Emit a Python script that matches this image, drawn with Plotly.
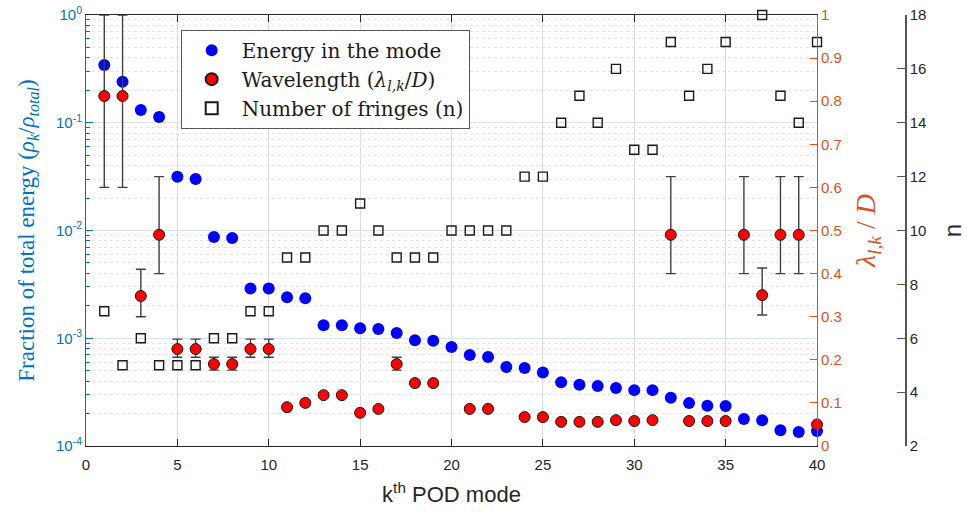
import plotly.graph_objects as go

modes = list(range(1, 41))

energy = [0.343, 0.24, 0.131, 0.113, 0.0315, 0.030, 0.0087, 0.0085, 0.0029, 0.0029,
          0.0024, 0.00235, 0.00132, 0.00132, 0.00124, 0.00122, 0.00112, 0.00096, 0.00095, 0.00083,
          0.00070, 0.00067, 0.00054, 0.00053, 0.00048, 0.00039, 0.00037, 0.00036, 0.000345, 0.00033,
          0.00033, 0.00028, 0.00025, 0.000236, 0.000235, 0.000178, 0.000173, 0.00014, 0.000135, 0.000138]

wavelength = [0.812, 0.812, 0.348, 0.49, 0.225, 0.225, 0.19, 0.19, 0.225, 0.225,
              0.09, 0.10, 0.118, 0.118, 0.077, 0.086, 0.19, 0.146, 0.146, None,
              0.086, 0.086, None, 0.067, 0.067, 0.056, 0.056, 0.056, 0.06, 0.058,
              0.06, 0.49, 0.058, 0.058, 0.058, 0.49, 0.35, 0.49, 0.49, 0.05]

wl_err_plus = [0.188, 0.188, 0.062, 0.135, 0.023, 0.023, 0.016, 0.016, 0.023, 0.023,
               0.004, 0.004, 0.004, 0.004, 0.004, 0.004, 0.016, 0.004, 0.004, 0,
               0.004, 0.004, 0, 0.004, 0.004, 0.004, 0.004, 0.004, 0.004, 0.004,
               0.004, 0.135, 0.004, 0.004, 0.004, 0.135, 0.063, 0.135, 0.135, 0.004]

wl_err_minus = [0.212, 0.212, 0.048, 0.09, 0.019, 0.019, 0.014, 0.014, 0.019, 0.019,
                0.004, 0.004, 0.004, 0.004, 0.004, 0.004, 0.014, 0.004, 0.004, 0,
                0.004, 0.004, 0, 0.004, 0.004, 0.004, 0.004, 0.004, 0.004, 0.004,
                0.004, 0.09, 0.004, 0.004, 0.004, 0.09, 0.046, 0.09, 0.09, 0.004]

fringes = [7, 5, 6, 5, 5, 5, 6, 6, 7, 7,
           9, 9, 10, 10, 11, 10, 9, 9, 9, 10,
           10, 10, 10, 12, 12, 14, 15, 14, 16, 13,
           13, 17, 15, 16, 17, None, 18, 15, 14, 17]

left_tickvals = [1e-4, 1e-3, 1e-2, 1e-1, 1]
left_ticktext = ["10<sup>-4</sup>", "10<sup>-3</sup>", "10<sup>-2</sup>", "10<sup>-1</sup>", "10<sup>0</sup>"]

BLUE = "#0072BD"
ORANGE = "#D95319"
DARK = "#262626"
SANS = "Liberation Sans, Arial, sans-serif"
SERIF = "Liberation Serif, Times New Roman, serif"
LSERIF = "DejaVu Serif, serif"

fig = go.Figure()

fig.add_trace(go.Scatter(
    x=modes, y=energy, mode="markers", name="Energy in the mode",
    marker=dict(color="#0000FF", size=12, line=dict(width=0)),
    yaxis="y", cliponaxis=False))

fig.add_trace(go.Scatter(
    x=modes, y=wavelength, mode="markers", name="Wavelength (<i>λ<sub>l,k</sub></i>/<i>D</i>)",
    marker=dict(color="#FF0000", size=11, line=dict(color="#1a1a1a", width=1)),
    error_y=dict(type="data", symmetric=False, array=wl_err_plus, arrayminus=wl_err_minus,
                 color="#404040", thickness=1.4, width=5),
    yaxis="y2", cliponaxis=False))

fig.add_trace(go.Scatter(
    x=modes, y=fringes, mode="markers", name="Number of fringes (n)",
    marker=dict(symbol="square-open", color="#1a1a1a", size=9, line=dict(width=1.4)),
    yaxis="y3", cliponaxis=False))

fig.update_layout(
    width=976, height=515,
    margin=dict(l=86, r=5, t=15, b=69),
    paper_bgcolor="white", plot_bgcolor="white",
    showlegend=True,
    legend=dict(x=0.107, y=0.966, xanchor="left", yanchor="top",
                bgcolor="white", bordercolor="#555555", borderwidth=1,
                font=dict(family=LSERIF, size=20, color="#1a1a1a"),
                tracegroupgap=0, itemsizing="constant", itemwidth=50),
    xaxis=dict(
        domain=[0, 0.826], range=[0, 40], tickvals=[0, 5, 10, 15, 20, 25, 30, 35, 40],
        automargin=False,
        showline=True, linecolor=DARK, linewidth=1, mirror="ticks",
        ticks="inside", ticklen=7, tickcolor=DARK, ticklabelstandoff=5,
        showgrid=True, gridcolor="#dcdcdc", gridwidth=1,
        zeroline=False,
        tickfont=dict(family=SANS, size=15, color=DARK),
        title=dict(text="k<sup>th</sup> POD mode", font=dict(family=SANS, size=22, color=DARK), standoff=14),
    ),
    yaxis=dict(
        type="log", range=[-4, 0], automargin=False,
        tickvals=left_tickvals, ticktext=left_ticktext,
        showline=True, linecolor=BLUE, linewidth=1,
        ticks="inside", ticklen=7, tickcolor=BLUE,
        showgrid=True, gridcolor="#d6e6f0", gridwidth=1,
        minor=dict(dtick="D1", ticks="inside", ticklen=4, tickcolor=BLUE,
                   showgrid=True, gridcolor="#e2e2e2", griddash="dot", gridwidth=1),
        zeroline=False,
        tickfont=dict(family=SANS, size=15, color=BLUE),
        title=dict(text="Fraction of total energy (<i>ρ<sub>k</sub></i>/<i>ρ<sub>total</sub></i>)",
                   font=dict(family=SERIF, size=23, color=BLUE), standoff=14),
    ),
    yaxis2=dict(
        overlaying="y", side="right", anchor="x", range=[0, 1], automargin=False,
        tickvals=[0, 0.1, 0.2, 0.3, 0.4, 0.5, 0.6, 0.7, 0.8, 0.9, 1],
        ticktext=["0", "0.1", "0.2", "0.3", "0.4", "0.5", "0.6", "0.7", "0.8", "0.9", "1"],
        showline=True, linecolor=ORANGE, linewidth=1,
        ticks="inside", ticklen=7, tickcolor=ORANGE,
        showgrid=False, zeroline=False,
        tickfont=dict(family=SANS, size=15, color=ORANGE),
        title=dict(text="<i>λ<sub>l,k</sub></i> / <i>D</i>",
                   font=dict(family=SERIF, size=28, color=ORANGE), standoff=14),
    ),
    yaxis3=dict(
        overlaying="y", side="right", anchor="free", position=0.9266, range=[2, 18],
        automargin=False,
        tickvals=[2, 4, 6, 8, 10, 12, 14, 16, 18],
        showline=True, linecolor="#555555", linewidth=1.5,
        ticks="inside", ticklen=8, tickcolor="#555555",
        showgrid=False, zeroline=False,
        tickfont=dict(family=SANS, size=15, color=DARK),
        title=dict(text="n", font=dict(family=SANS, size=24, color=DARK), standoff=18),
    ),
)

fig.write_html("out.html")
